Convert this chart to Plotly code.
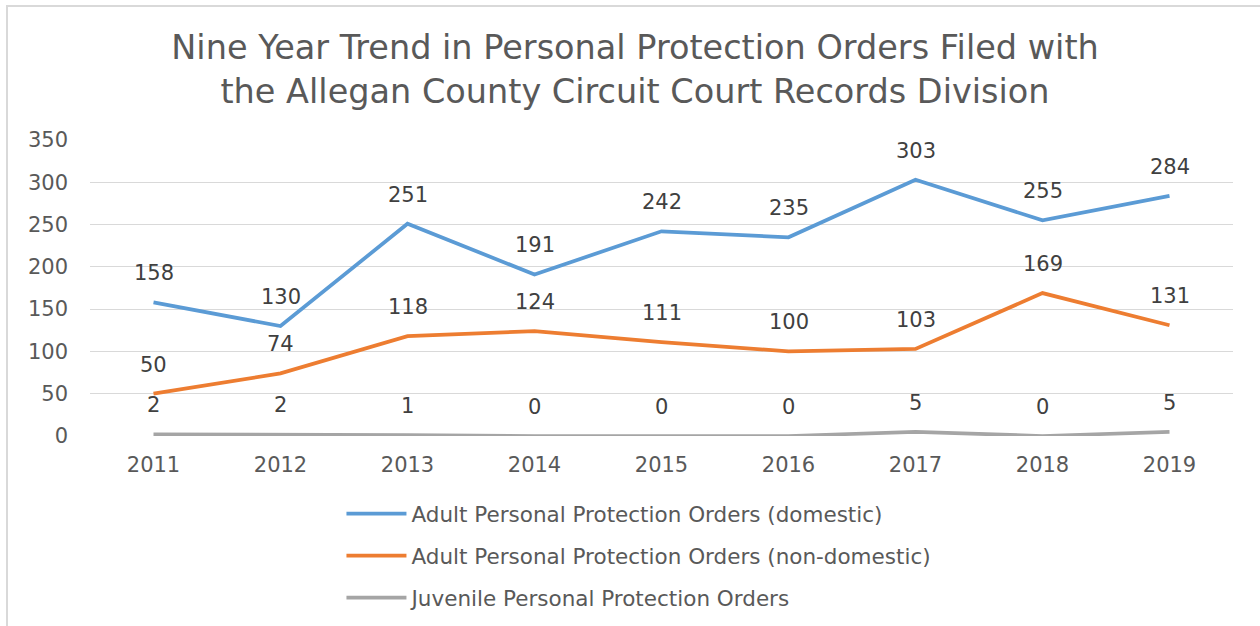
import plotly.graph_objects as go

years = ["2011", "2012", "2013", "2014", "2015", "2016", "2017", "2018", "2019"]
domestic = [158, 130, 251, 191, 242, 235, 303, 255, 284]
non_domestic = [50, 74, 118, 124, 111, 100, 103, 169, 131]
juvenile = [2, 2, 1, 0, 0, 0, 5, 0, 5]

series_names = [
    "Adult Personal Protection Orders (domestic)",
    "Adult Personal Protection Orders (non-domestic)",
    "Juvenile Personal Protection Orders",
]
series_values = [domestic, non_domestic, juvenile]
series_colors = ["#5B9BD5", "#ED7D31", "#A5A5A5"]
y_ticks = [0, 50, 100, 150, 200, 250, 300, 350]

FONT = "DejaVu Sans"
TXT = "#595959"

fig = go.Figure()
for i, (name, vals, col) in enumerate(zip(series_names, series_values, series_colors)):
    fig.add_trace(go.Scatter(
        x=list(range(len(years))), y=vals, mode="lines", name=name,
        line=dict(color=col, width=3.75),
        legendgroup=f"g{i}",
        hoverinfo="skip",
    ))

annotations = []
for vals in series_values:
    for xi, v in enumerate(vals):
        annotations.append(dict(
            x=xi, y=v, xref="x", yref="y", text=str(v), showarrow=False,
            yshift=29, font=dict(family=FONT, size=21, color="#404040"),
        ))

fig.update_layout(
    width=1260, height=626,
    margin=dict(l=90, r=27, t=140, b=190, autoexpand=False),
    paper_bgcolor="white", plot_bgcolor="white",
    title=dict(
        text="Nine Year Trend in Personal Protection Orders Filed with<br>the Allegan County Circuit Court Records Division",
        x=0.504, xanchor="center", y=0.905, yanchor="top",
        font=dict(family=FONT, size=33.5, color=TXT),
    ),
    xaxis=dict(
        range=[-0.5, 8.5], tickvals=list(range(len(years))), ticktext=years,
        showgrid=False, zeroline=False, showline=False,
        ticks="", ticklabelstandoff=14,
        tickfont=dict(family=FONT, size=21, color=TXT),
    ),
    yaxis=dict(
        range=[0, 350], tickvals=y_ticks, showgrid=True, gridcolor="#D9D9D9",
        gridwidth=1, zeroline=False, showline=False, ticks="",
        ticklabelstandoff=21,
        tickfont=dict(family=FONT, size=21, color=TXT),
    ),
    legend=dict(
        orientation="v", x=0.22, xanchor="left", y=-0.193, yanchor="top",
        font=dict(family=FONT, size=21.5, color=TXT),
        tracegroupgap=11, itemwidth=60, bgcolor="rgba(0,0,0,0)",
    ),
    annotations=annotations,
    shapes=[dict(
        type="rect", xref="paper", yref="paper",
        x0=-0.0726, x1=1.05, y0=-0.8, y1=1.4527,
        line=dict(color="#D9D9D9", width=2), layer="below",
    )],
    showlegend=True,
)

fig.write_html(
    "out.html",
    config={"displayModeBar": False},
    post_script="document.body.style.margin='0';",
)
